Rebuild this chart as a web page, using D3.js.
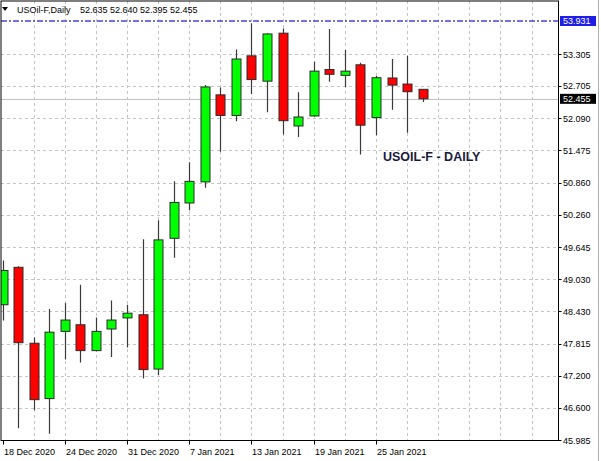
<!DOCTYPE html>
<html><head><meta charset="utf-8">
<script src="https://cdn.jsdelivr.net/npm/d3@7"></script>
<style>html,body{margin:0;padding:0;background:#fff;}svg{display:block;}</style>
</head><body>
<script>
const dates = ["18 Dec 2020","21 Dec 2020","22 Dec 2020","23 Dec 2020","24 Dec 2020","28 Dec 2020","29 Dec 2020","30 Dec 2020","31 Dec 2020","4 Jan 2021","5 Jan 2021","6 Jan 2021","7 Jan 2021","8 Jan 2021","11 Jan 2021","12 Jan 2021","13 Jan 2021","14 Jan 2021","15 Jan 2021","18 Jan 2021","19 Jan 2021","20 Jan 2021","21 Jan 2021","22 Jan 2021","25 Jan 2021","26 Jan 2021","27 Jan 2021","28 Jan 2021"];
const open  = [48.55,49.26,47.82,46.77,48.045,48.17,47.68,48.09,48.30,48.36,47.33,49.81,50.48,50.88,52.53,52.14,53.27,52.79,53.70,51.94,52.13,53.01,52.90,53.10,52.10,52.85,52.735,52.635];
const high  = [49.39,49.28,47.93,48.47,48.585,48.93,48.31,48.63,48.55,49.79,50.15,50.89,51.25,52.715,52.67,53.39,53.89,53.70,53.79,52.58,53.16,53.78,53.38,53.14,52.89,53.21,53.27,52.640];
const low   = [48.25,46.21,46.55,46.105,47.51,47.455,47.67,47.56,47.74,47.15,47.22,49.44,50.34,50.77,51.45,52.03,52.545,52.20,51.78,51.73,52.12,52.78,52.68,51.40,51.765,52.25,51.81,52.395];
const close = [49.20,47.83,46.75,48.03,48.26,47.68,48.045,48.26,48.39,47.32,49.78,50.49,50.89,52.68,52.14,53.21,52.82,53.685,52.04,52.11,52.98,52.92,52.98,51.955,52.855,52.715,52.59,52.455];
const priceTicks = [45.985,46.600,47.200,47.815,48.430,49.030,49.645,50.260,50.860,51.475,52.090,52.705,53.305];
const dateTickIdx = [0,4,8,12,16,20,24];
const dateTickLabels = ["18 Dec 2020","24 Dec 2020","31 Dec 2020","7 Jan 2021","13 Jan 2021","19 Jan 2021","25 Jan 2021"];
const hLineLevel = 53.931;
const bidLevel = 52.455;
const symbolTitle = "USOil-F,Daily";
const ohlcText = "52.635 52.640 52.395 52.455";
const chartLabel = "USOIL-F - DAILY";

const W = 601, H = 461;
const pLeft = 1, pRight = 558.5, pTop = 1, pBottom = 440.5;
const svg = d3.select("body").append("svg").attr("width", W).attr("height", H)
  .style("font-family", "'Liberation Sans', Arial, sans-serif");

const x = d3.scaleLinear().domain([0, 27]).range([2.5, 2.5 + 15.56 * 27]);
const y = d3.scaleLinear().domain([45.985, 53.305]).range([440, 54]);
const px = v => Math.round(x(v)) + 0.5;
const py = v => Math.round(y(v)) + 0.5;

svg.append("defs").append("clipPath").attr("id", "plot")
  .append("rect").attr("x", pLeft).attr("y", pTop).attr("width", pRight - pLeft).attr("height", pBottom - pTop);

const plot = svg.append("g").attr("clip-path", "url(#plot)");

// grid
const gridIdx = d3.range(2, 36, 2);
plot.selectAll("line.vg").data(gridIdx).enter().append("line")
  .attr("x1", d => px(d)).attr("x2", d => px(d)).attr("y1", pTop).attr("y2", pBottom)
  .attr("stroke", "#c4c4c4").attr("stroke-dasharray", "3,3");
plot.selectAll("line.hg").data(priceTicks).enter().append("line")
  .attr("x1", pLeft).attr("x2", pRight).attr("y1", d => py(d)).attr("y2", d => py(d))
  .attr("stroke", "#c4c4c4").attr("stroke-dasharray", "3,3");

// bid line
plot.append("line").attr("x1", pLeft).attr("x2", pRight)
  .attr("y1", py(bidLevel)).attr("y2", py(bidLevel))
  .attr("stroke", "#c0c0c0").attr("stroke-width", 1);

// horizontal blue line
plot.append("line").attr("x1", pLeft).attr("x2", pRight)
  .attr("y1", y(hLineLevel)).attr("y2", y(hLineLevel))
  .attr("stroke", "#4545dc").attr("stroke-width", 1.6).attr("stroke-dasharray", "6,2,2,2");

// candles
const idx = d3.range(open.length);
plot.selectAll("line.wick").data(idx).enter().append("line")
  .attr("x1", i => px(i)).attr("x2", i => px(i))
  .attr("y1", i => y(high[i])).attr("y2", i => y(low[i]))
  .attr("stroke", "#3a3a3a").attr("stroke-width", 1.2);
plot.selectAll("rect.body").data(idx).enter().append("rect")
  .attr("x", i => px(i) - 4.5).attr("width", 9)
  .attr("y", i => y(Math.max(open[i], close[i])))
  .attr("height", i => Math.max(1, Math.abs(y(open[i]) - y(close[i]))))
  .attr("fill", i => close[i] >= open[i] ? "#00ff00" : "#ff0000")
  .attr("stroke", "#2a2a2a").attr("stroke-width", 1);

// frame
svg.append("rect").attr("x", pLeft).attr("y", pTop).attr("width", pRight - pLeft).attr("height", pBottom - pTop)
  .attr("fill", "none").attr("stroke", "#000").attr("stroke-width", 1);

// price axis
const pa = svg.append("g");
priceTicks.forEach(v => {
  pa.append("line").attr("x1", pRight).attr("x2", pRight + 3).attr("y1", py(v)).attr("y2", py(v)).attr("stroke", "#000");
  pa.append("text").attr("x", 563).attr("y", y(v) + 3.5).attr("font-size", 9).attr("fill", "#000").text(v.toFixed(3));
});
pa.append("rect").attr("x", 560).attr("y", y(hLineLevel) - 5).attr("width", 36).attr("height", 10).attr("fill", "#1e1ee6");
pa.append("text").attr("x", 563).attr("y", y(hLineLevel) + 3.5).attr("font-size", 9).attr("fill", "#fff").text(hLineLevel.toFixed(3));
pa.append("rect").attr("x", 560).attr("y", y(bidLevel) - 5).attr("width", 36).attr("height", 10).attr("fill", "#000");
pa.append("text").attr("x", 563).attr("y", y(bidLevel) + 3.5).attr("font-size", 9).attr("fill", "#fff").text(bidLevel.toFixed(3));

// date axis
const da = svg.append("g");
dateTickIdx.forEach((d, k) => {
  da.append("line").attr("x1", px(d)).attr("x2", px(d)).attr("y1", pBottom).attr("y2", pBottom + 4).attr("stroke", "#000");
  da.append("text").attr("x", px(d) + 0.5).attr("y", 455).attr("font-size", 9).attr("fill", "#000").text(dateTickLabels[k]);
});

// title
svg.append("path").attr("d", "M2,7 L8,7 L5,11 Z").attr("fill", "#000");
svg.append("text").attr("x", 17).attr("y", 13).attr("font-size", 9).attr("fill", "#000").text(symbolTitle);
svg.append("text").attr("x", 80).attr("y", 13).attr("font-size", 9).attr("fill", "#000").text(ohlcText);

// label
svg.append("text").attr("x", 383).attr("y", 160.5).attr("font-size", 12.5).attr("font-weight", "bold")
  .attr("fill", "#1a1a3c").text(chartLabel);

// window border
svg.append("line").attr("x1", 598.5).attr("x2", 598.5).attr("y1", 0).attr("y2", H).attr("stroke", "#b0b0b0");
</script>
</body></html>
